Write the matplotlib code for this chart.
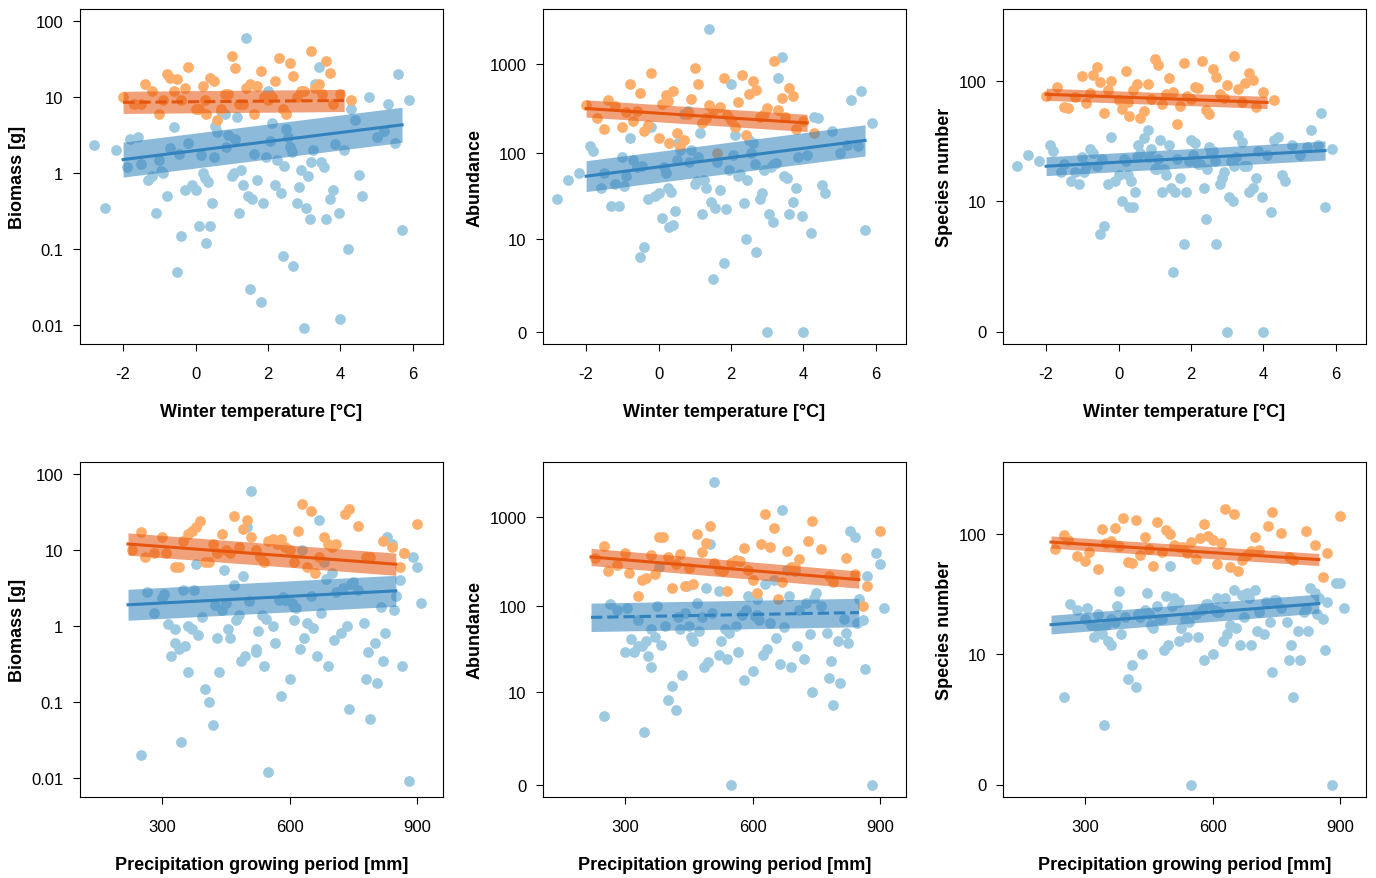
import numpy as np
import matplotlib
matplotlib.use("Agg")
from matplotlib import pyplot as plt
from matplotlib.ticker import FixedLocator, FixedFormatter

plt.rcParams['font.family'] = ['Liberation Sans', 'DejaVu Sans']
plt.rcParams['axes.unicode_minus'] = False

# --- site data (blue = first habitat, orange = second habitat) ---
temp_b = [-2.8, -2.5, -2.2, -1.9, -1.6, -1.3, -1.0, -0.8, -0.6, -0.4, -0.2, 0.0, 0.2, 0.4, 0.6,
          0.8, 1.0, 1.2, 1.4, 1.6, 1.8, 2.0, 2.2, 2.4, 2.6, 2.8, 3.0, 3.2, 3.4, 3.6, 3.8, 4.0,
          4.2, 4.4, 4.6, 4.8, 5.0, 5.3, 5.6, 5.9, -0.5, 0.3, 1.1, 1.5, 2.1, 2.9, 3.3, 0.7, -1.1, 4.1,
          -0.9, 0.1, 1.3, 2.5, 3.1, 3.7, 4.3, 5.5, 0.5, 2.7,
          -1.5, -1.2, -0.7, -0.3, 0.15, 0.45, 0.9, 1.25, 1.7, 2.05, 2.35, 2.65, 3.05, 3.45, 3.85,
          -0.1, 0.55, 1.05, 1.55, 1.95, 2.55, 3.15, 3.55, 0.25, 0.85, 1.45, 2.25, 2.85, -0.45, 3.95,
          -1.8, -0.95, 0.35, 1.15, 1.85, 2.45, 3.25, 4.5, 5.2, 5.7]
precip_b = [300, 820, 450, 610, 350, 720, 280, 520, 860, 400, 650, 330, 560, 780, 470, 900, 370,
            690, 510, 610, 250, 840, 430, 740, 590, 320, 880, 480, 670, 360, 800, 550, 410, 700,
            340, 630, 760, 890, 500, 870, 420, 580, 710, 345, 490, 640, 830, 380, 540, 910,
            360, 600, 460, 750, 330, 520, 680, 850, 440, 790,
            395, 455, 505, 565, 615, 665, 725, 775, 825, 305, 355, 425, 485, 535, 585,
            635, 685, 735, 785, 845, 375, 435, 475, 525, 575, 625, 675, 705, 815, 865,
            265, 315, 385, 445, 495, 545, 605, 655, 745, 805]
biomass_b = [2.3, 0.35, 2.0, 1.2, 3.0, 0.8, 1.5, 0.5, 4.0, 0.15, 2.5, 0.6, 1.0, 0.2, 3.5, 6.0,
             0.9, 0.3, 60, 1.8, 0.02, 12, 0.7, 0.08, 2.2, 0.4, 0.009, 1.4, 25, 0.25, 0.6, 0.012,
             0.1, 5.0, 0.5, 10, 3.0, 8.0, 20, 9.0, 0.05, 0.12, 2.8, 0.03, 4.5, 1.1, 15, 6.5, 0.3, 2.0,
             1.0, 0.2, 0.7, 3.8, 0.9, 0.45, 7.0, 2.5, 1.6, 0.06,
             1.3, 0.9, 2.1, 0.6, 1.7, 0.4, 3.2, 1.1, 0.8, 2.6, 0.55, 1.9, 0.35, 1.4, 2.4,
             0.7, 4.2, 1.0, 0.45, 1.6, 3.0, 0.25, 1.2, 0.85, 2.2, 0.5, 1.5, 0.65, 1.8, 0.3,
             2.8, 1.05, 0.75, 5.5, 0.4, 1.25, 2.0, 0.95, 3.6, 0.18]
abund_b = [30, 50, 60, 120, 40, 25, 90, 150, 70, 8, 200, 35, 60, 15, 110, 300, 45, 20, 2500, 80,
           5, 600, 55, 10, 130, 30, 0, 75, 1200, 20, 40, 0, 12, 250, 35, 180, 100, 400, 500, 220,
           6, 14, 90, 3, 160, 65, 700, 280, 25, 95, 55, 18, 40, 140, 70, 28, 260, 120, 85, 7,
           60, 45, 85, 30, 70, 22, 110, 50, 38, 95, 27, 75, 20, 55, 90,
           33, 130, 48, 24, 65, 100, 16, 52, 40, 80, 28, 58, 35, 72, 19,
           105, 42, 36, 170, 23, 50, 78, 44, 125, 13]
species_b = [20, 25, 22, 30, 18, 15, 24, 28, 20, 6, 35, 17, 22, 9, 26, 40, 19, 12, 30, 23,
             4, 33, 21, 7, 27, 14, 0, 20, 32, 12, 16, 0, 8, 35, 15, 30, 25, 40, 55, 28,
             5, 9, 23, 2, 31, 18, 36, 34, 14, 25, 20, 10, 17, 29, 22, 13, 33, 30, 24, 4,
             21, 18, 26, 14, 23, 12, 28, 19, 16, 25, 13, 22, 11, 20, 27,
             15, 30, 19, 12, 22, 26, 10, 20, 17, 24, 13, 21, 16, 23, 11,
             27, 18, 15, 33, 12, 19, 24, 17, 29, 9]

temp_o = [-2.0, -1.7, -1.4, -1.0, -0.8, -0.6, -0.4, -0.2, 0.0, 0.2, 0.4, 0.6, 0.8, 1.0, 1.2,
          1.4, 1.6, 1.8, 2.0, 2.2, 2.4, 2.6, 2.8, 3.0, 3.2, 3.4, 3.6, 3.8, 4.0, 4.3,
          -0.5, 0.3, 1.1, 1.9, 2.7, 3.3, 0.7, 2.3, -1.2, 3.7,
          -0.9, -0.3, 0.1, 0.5, 0.9, 1.3, 1.7, 2.1, 2.5, 2.9, -0.7, 0.25, 1.5, 3.5, -1.5]
precip_o = [230, 260, 300, 340, 380, 420, 460, 500, 540, 580, 620, 660, 700, 740, 780, 820, 860,
            900, 310, 360, 410, 470, 520, 570, 630, 680, 730, 790, 840, 870,
            250, 330, 390, 450, 490, 550, 610, 650, 710, 760,
            280, 350, 400, 440, 480, 530, 560, 600, 640, 690, 370, 430, 510, 590, 670]
biomass_o = [10, 8, 15, 6, 20, 12, 9, 25, 7, 14, 18, 5, 11, 35, 8, 13, 6, 22, 9, 16,
             7, 28, 10, 12, 40, 15, 30, 8, 11, 9, 17, 6, 24, 10, 19, 13, 7, 33, 12, 21,
             9, 13, 7, 16, 11, 8, 14, 10, 6, 12, 18, 9, 15, 11, 8]
abund_o = [350, 250, 400, 200, 600, 300, 180, 800, 150, 450, 500, 120, 280, 900, 220, 350, 100,
           700, 240, 380, 160, 650, 260, 320, 1100, 420, 550, 190, 230, 170,
           480, 130, 600, 270, 520, 310, 140, 750, 340, 440,
           290, 210, 360, 170, 410, 250, 330, 200, 460, 280, 230, 390, 310, 260, 190]
species_o = [75, 90, 60, 110, 80, 130, 55, 100, 70, 120, 85, 50, 95, 150, 65, 105, 45, 140, 72, 88,
             58, 125, 78, 92, 160, 68, 115, 62, 82, 70, 98, 52, 135, 76, 108, 86, 57, 145, 74, 102,
             66, 84, 59, 94, 71, 79, 63, 89, 54, 73, 112, 68, 81, 96, 61]

# fitted lines: (x0, x1, y0, y1, band factor, dashed)
fit_o = [(-2, 4.1, 8.5, 9.0, 1.4, True), (-2, 4.1, 320, 220, 1.25, False), (-2, 4.1, 78, 67, 1.12, False),
         (220, 850, 12, 6.5, 1.4, False), (220, 850, 360, 200, 1.25, False), (220, 850, 86, 62, 1.12, False)]
fit_b = [(-2, 5.7, 1.5, 4.3, 1.7, False), (-2, 5.7, 55, 140, 1.5, False), (-2, 5.7, 20, 27, 1.2, False),
         (220, 850, 1.9, 2.9, 1.6, False), (220, 850, 75, 85, 1.45, True), (220, 850, 18, 27, 1.2, False)]

ylabels = ['Biomass [g]', 'Abundance', 'Species number']
xlabels = ['Winter temperature [°C]', 'Precipitation growing period [mm]']

c_pt_b, c_pt_o = '#9ecae1', '#fdae6b'
c_ln_b, c_ln_o = '#3182bd', '#e6550d'

fig = plt.figure(figsize=(13.76, 8.79), dpi=100)
W, H = 1376, 879
lefts = [80, 543, 1003]
tops = [10, 463]
aw, ah = 363, 335


def tr(k, v):
    v = np.asarray(v, dtype=float)
    return np.log10(v) if k == 0 else np.log10(v + 1)


for r in range(2):
    xb = temp_b if r == 0 else precip_b
    xo = temp_o if r == 0 else precip_o
    for k in range(3):
        ax = fig.add_axes([lefts[k] / W, 1 - (tops[r] + ah) / H, aw / W, ah / H])
        yb = [biomass_b, abund_b, species_b][k]
        yo = [biomass_o, abund_o, species_o][k]
        ax.scatter(xb, tr(k, yb), s=60, color=c_pt_b, linewidths=0, zorder=2)
        ax.scatter(xo, tr(k, yo), s=60, color=c_pt_o, linewidths=0, zorder=3)
        for fit, cl, z in [(fit_b[r * 3 + k], c_ln_b, 4), (fit_o[r * 3 + k], c_ln_o, 5)]:
            x0, x1, y0, y1, f, dashed = fit
            xs = np.array([x0, x1])
            ys = np.array([y0, y1], dtype=float)
            ax.fill_between(xs, tr(k, ys / f), tr(k, ys * f), color=cl, alpha=0.55, linewidth=0, zorder=z)
            ax.plot(xs, tr(k, ys), color=cl, lw=2.2, ls='--' if dashed else '-', zorder=z + 0.5)
        if k == 0:
            ticks = [0.01, 0.1, 1, 10, 100]
            labs = ['0.01', '0.1', '1', '10', '100']
            ax.set_ylim(np.log10(0.0056), np.log10(144))
        elif k == 1:
            ticks = [0, 10, 100, 1000]
            labs = ['0', '10', '100', '1000']
            ax.set_ylim(-0.13, 3.62)
        else:
            ticks = [0, 10, 100]
            labs = ['0', '10', '100']
            ax.set_ylim(-0.1, 2.58)
        ax.yaxis.set_major_locator(FixedLocator(list(tr(k, ticks))))
        ax.yaxis.set_major_formatter(FixedFormatter(labs))
        if r == 0:
            ax.set_xlim(-3.19, 6.83)
            ax.set_xticks([-2, 0, 2, 4, 6])
        else:
            ax.set_xlim(107, 961)
            ax.set_xticks([300, 600, 900])
        ax.tick_params(labelsize=12, length=5, pad=7)
        ax.tick_params(axis='x', pad=11)
        ax.set_xlabel(xlabels[r], fontsize=13, fontweight='bold', labelpad=16)
        ax.set_ylabel(ylabels[k], fontsize=13, fontweight='bold')

fig.savefig('out.png', dpi=100)
